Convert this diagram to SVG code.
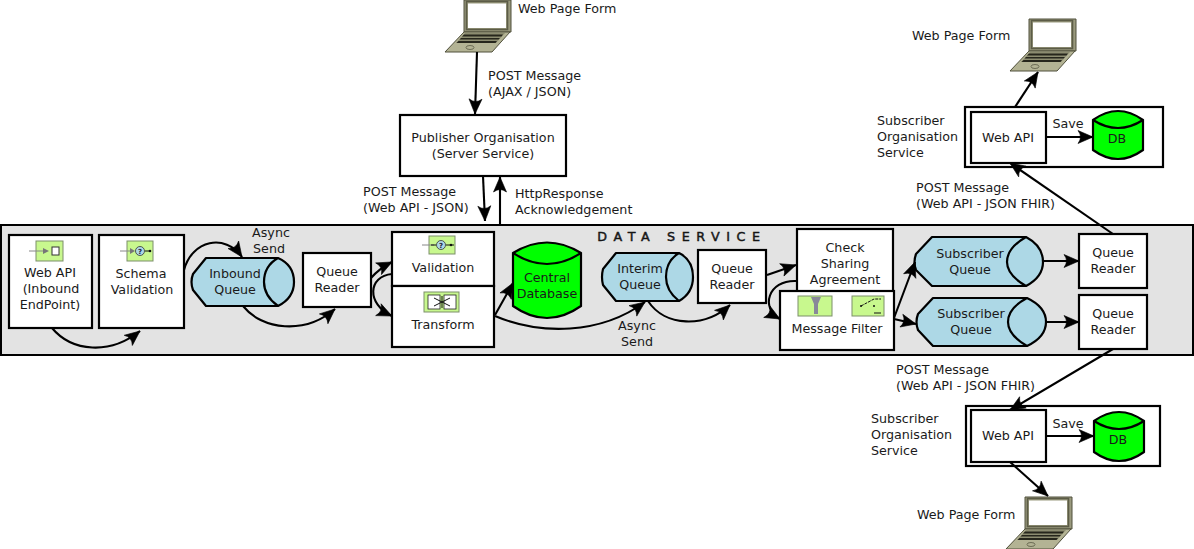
<svg xmlns="http://www.w3.org/2000/svg" width="1194" height="549" viewBox="0 0 1194 549">
<style>
text{font-family:"DejaVu Sans",sans-serif;font-size:12.7px;fill:#1a1a1a;text-anchor:middle}
text.l{text-anchor:start}
text.q7{font-size:7px;font-weight:bold;fill:#223}
.box{fill:#fff;stroke:#000;stroke-width:2.2}
.q{fill:#add8e6;stroke:#000;stroke-width:2.2;stroke-linejoin:round}
.db{fill:#0f0;stroke:#000;stroke-width:2.2}
.ic{fill:#c8f88e;stroke:#7d8f6a;stroke-width:1}
.conn path{fill:none;stroke:#000;stroke-width:2.1;marker-end:url(#arr)}
.ig{fill:none;stroke:#888;stroke-width:1}
.ik{fill:none;stroke:#111;stroke-width:1}
</style>
<defs>
<marker id="arr" markerUnits="userSpaceOnUse" markerWidth="20" markerHeight="16" viewBox="-16 -8 20 16" refX="0" refY="0" orient="auto" overflow="visible">
<path d="M-15,-6.500 L0,0 L-15,6.500 Q-10,0 -15,-6.500 z" fill="#000" stroke="#000" stroke-width="0.6"/>
</marker>
<g id="laptop">
<path d="M464,0 L511,0 L511,32 L464,32 z" fill="#9a9a7e" stroke="#50503c" stroke-width="1"/>
<rect x="466.500" y="1.500" width="41" height="28" fill="none" stroke="#5c5c47" stroke-width="1.600"/>
<rect x="468" y="3.500" width="38" height="24.500" fill="#fff"/>
<path d="M464,32 L510,32 L492,52 L445,52 z" fill="#b3b394" stroke="#50503c" stroke-width="1"/>
<path d="M465,33 L505,33 L496,43 L456,43 z" fill="#8c8c70"/>
<path d="M464,34.500 L503,34.500 L501.500,36.500 L462,36.500 z M461,38 L500,38 L498.500,39.500 L459.500,39.500 z M458.500,41 L497,41 L495.500,43 L456.500,43 z" fill="#26261c"/>
<ellipse cx="470" cy="47.500" rx="4" ry="2" fill="none" stroke="#6d6d55"/>
</g>
</defs>

<g id="band"><rect x="1" y="225" width="1192" height="130" fill="#e3e3e3" stroke="#000" stroke-width="2"/>
<text x="682" y="241" style="letter-spacing:6.600px;stroke:#111;stroke-width:0.450">DATA SERVICE</text></g>

<g id="form-top"><use href="#laptop"/><text class="l" x="518" y="13">Web Page Form</text></g>
<g id="form-right"><use href="#laptop" transform="translate(565,19)"/><text class="l" x="912" y="40">Web Page Form</text></g>
<g id="form-bottom"><use href="#laptop" transform="translate(561,497)"/><text class="l" x="917" y="519">Web Page Form</text></g>

<g id="publisher"><rect class="box" x="400" y="115" width="166" height="61"/><text x="483" y="142">Publisher Organisation</text><text x="483" y="158">(Server Service)</text></g>

<g id="webapi-in"><rect class="box" x="9" y="235" width="83" height="93"/>
<rect class="ic" x="36" y="241" width="27" height="20"/><path class="ig" d="M29,251H44"/><path d="M43,248L49,251L43,254z" fill="#777"/><rect x="52" y="247" width="7" height="8" fill="#fff" stroke="#333" stroke-width="1"/>
<text x="50" y="277">Web API</text><text x="51" y="293">(Inbound</text><text x="50" y="309">EndPoint)</text></g>

<g id="schema"><rect class="box" x="99" y="235" width="85" height="93"/>
<rect class="ic" x="127" y="241" width="26" height="20"/><path class="ig" d="M120,251H132"/><path d="M130,248L135,251L130,254z" fill="#777"/><circle cx="140" cy="251" r="4.500" fill="#add8e6" stroke="#333" stroke-width="0.8"/><text class="q7" x="140" y="253.500">?</text><path class="ik" d="M145,251H150"/><circle cx="150" cy="251" r="1.300" fill="#111"/>
<text x="141" y="278">Schema</text><text x="142" y="294">Validation</text></g>

<g id="inbound-queue"><path class="q" d="M206,258H278Q294,265 294,282Q294,298 278,306H206L193,290Q190,282 193,274z"/><path class="q" d="M278,258Q264,266 264,282Q264,296 278,306"/><text x="235" y="278">Inbound</text><text x="235" y="294">Queue</text></g>

<g id="reader-1"><rect class="box" x="303" y="253" width="68" height="54"/><text x="337" y="276">Queue</text><text x="337" y="292">Reader</text></g>

<g id="validation"><rect class="box" x="392" y="232" width="102" height="54"/>
<rect class="ic" x="429" y="236" width="26" height="18"/><path class="ig" d="M422,245H434"/><circle cx="441" cy="245" r="4.500" fill="#add8e6" stroke="#333" stroke-width="0.8"/><text class="q7" x="441" y="247.500">?</text><path class="ik" d="M431,245H436M446,245H454"/><circle cx="451" cy="245" r="1.300" fill="#111"/>
<text x="443" y="272">Validation</text></g>

<g id="transform"><rect class="box" x="392" y="286" width="102" height="61"/>
<rect class="ic" x="424" y="292" width="35" height="20"/><rect x="428" y="295" width="12" height="14" fill="#fff" stroke="#222" stroke-width="0.800"/><rect x="444" y="295" width="12" height="14" fill="#fff" stroke="#222" stroke-width="0.800"/><path class="ik" d="M434,298L450,306M434,306L450,298M442,296V308"/>
<text x="443" y="329">Transform</text></g>

<g id="central-db"><path class="db" d="M513,253Q547,232 581,253V306Q547,330 513,306z"/><path class="db" d="M513,253Q547,275 581,253"/><text x="547" y="282">Central</text><text x="547" y="298">Database</text></g>

<g id="interim-queue"><path class="q" d="M616,253H679Q693,260 693,277Q693,293 679,301H616L603,285Q601,277 603,269z"/><path class="q" d="M679,253Q666,261 666,277Q666,291 679,301"/><text x="640" y="273">Interim</text><text x="640" y="289">Queue</text></g>

<g id="reader-2"><rect class="box" x="698" y="250" width="68" height="53"/><text x="732" y="273">Queue</text><text x="732" y="289">Reader</text></g>

<g id="check"><rect class="box" x="797" y="229" width="96" height="64"/><text x="845" y="252">Check</text><text x="845" y="268">Sharing</text><text x="845" y="284">Agreement</text></g>

<g id="message-filter"><rect class="box" x="780" y="291" width="114" height="59"/>
<rect class="ic" x="798" y="296" width="34" height="20"/><path d="M811,297H821L818,304V314H814V304z" fill="#889"/>
<rect class="ic" x="852" y="296" width="32" height="20"/><path class="ik" d="M861,306L874,299H881" stroke-dasharray="3 1"/><path class="ik" d="M874,313H881"/><circle cx="861" cy="306" r="1" fill="#111"/><circle cx="874" cy="306" r="1" fill="#111"/>
<text x="837" y="333">Message Filter</text></g>

<g id="sub-queue-1"><path class="q" d="M932,237H1026Q1043,246 1043,262Q1043,277 1026,286H932L916,270Q913,262 916,254z"/><path class="q" d="M1026,237Q1007,248 1007,262Q1007,275 1026,286"/><text x="970" y="258">Subscriber</text><text x="970" y="274">Queue</text></g>

<g id="sub-queue-2"><path class="q" d="M933,298H1027Q1046,307 1046,322Q1046,337 1027,346H933L918,330Q915,322 918,314z"/><path class="q" d="M1027,298Q1008,308 1008,322Q1008,335 1027,346"/><text x="971" y="318">Subscriber</text><text x="971" y="334">Queue</text></g>

<g id="reader-3"><rect class="box" x="1079" y="234" width="68" height="54"/><text x="1113" y="257">Queue</text><text x="1113" y="273">Reader</text></g>
<g id="reader-4"><rect class="box" x="1079" y="295" width="68" height="54"/><text x="1113" y="318">Queue</text><text x="1113" y="334">Reader</text></g>

<g id="subscriber-top"><rect class="box" x="965" y="107" width="198" height="60"/><rect class="box" x="971" y="112" width="75" height="51"/><text x="1008" y="142">Web API</text>
<path class="db" d="M1093,120Q1118,102 1143,120V150Q1118,168 1093,150z"/><path class="db" d="M1093,120Q1118,136 1143,120"/><text x="1117" y="143">DB</text><text x="1068" y="128">Save</text></g>
<text class="l" x="877" y="125">Subscriber</text><text class="l" x="877" y="141">Organisation</text><text class="l" x="877" y="157">Service</text>

<g id="subscriber-bottom"><rect class="box" x="966" y="406" width="194" height="60"/><rect class="box" x="971" y="410" width="75" height="52"/><text x="1008" y="440">Web API</text>
<path class="db" d="M1094,421Q1119,403 1144,421V452Q1119,470 1094,452z"/><path class="db" d="M1094,421Q1119,437 1144,421"/><text x="1118" y="444">DB</text><text x="1068" y="428">Save</text></g>
<text class="l" x="871" y="423">Subscriber</text><text class="l" x="871" y="439">Organisation</text><text class="l" x="871" y="455">Service</text>

<g id="labels">
<text class="l" x="488" y="80">POST Message</text><text class="l" x="488" y="96">(AJAX / JSON)</text>
<text class="l" x="363" y="196">POST Message</text><text class="l" x="363" y="212">(Web API - JSON)</text>
<text class="l" x="515" y="198">HttpResponse</text><text class="l" x="515" y="214">Acknowledgement</text>
<text x="271" y="237">Async</text><text x="269" y="253">Send</text>
<text x="637" y="330">Async</text><text x="637" y="346">Send</text>
<text class="l" x="916" y="192">POST Message</text><text class="l" x="916" y="208">(Web API - JSON FHIR)</text>
<text class="l" x="896" y="374">POST Message</text><text class="l" x="896" y="390">(Web API - JSON FHIR)</text>
</g>

<g id="connectors" class="conn">
<path d="M477,52L475,114"/>
<path d="M483,176L485,221"/>
<path d="M500,224V177"/>
<path d="M52,328C72,352 110,355 140,331"/>
<path d="M184,270C192,240 225,233 242,257"/>
<path d="M243,306C262,330 305,335 335,309"/>
<path d="M371,278C378,270 384,266 392,262"/>
<path d="M392,274C368,276 366,304 392,316"/>
<path d="M495,315L513,283"/>
<path d="M495,316C540,335 600,335 645,302"/>
<path d="M648,301C665,327 705,328 730,305"/>
<path d="M767,275L796,265"/>
<path d="M796,281C768,280 760,308 780,319"/>
<path d="M894,318L915,262"/>
<path d="M894,319L916,324"/>
<path d="M1043,261H1079"/>
<path d="M1046,322H1079"/>
<path d="M1113,234L1010,163"/>
<path d="M1113,349L1010,410"/>
<path d="M1015,107L1038,72"/>
<path d="M1046,137H1093"/>
<path d="M1046,436H1094"/>
<path d="M1010,462L1048,496"/>
</g>
</svg>
